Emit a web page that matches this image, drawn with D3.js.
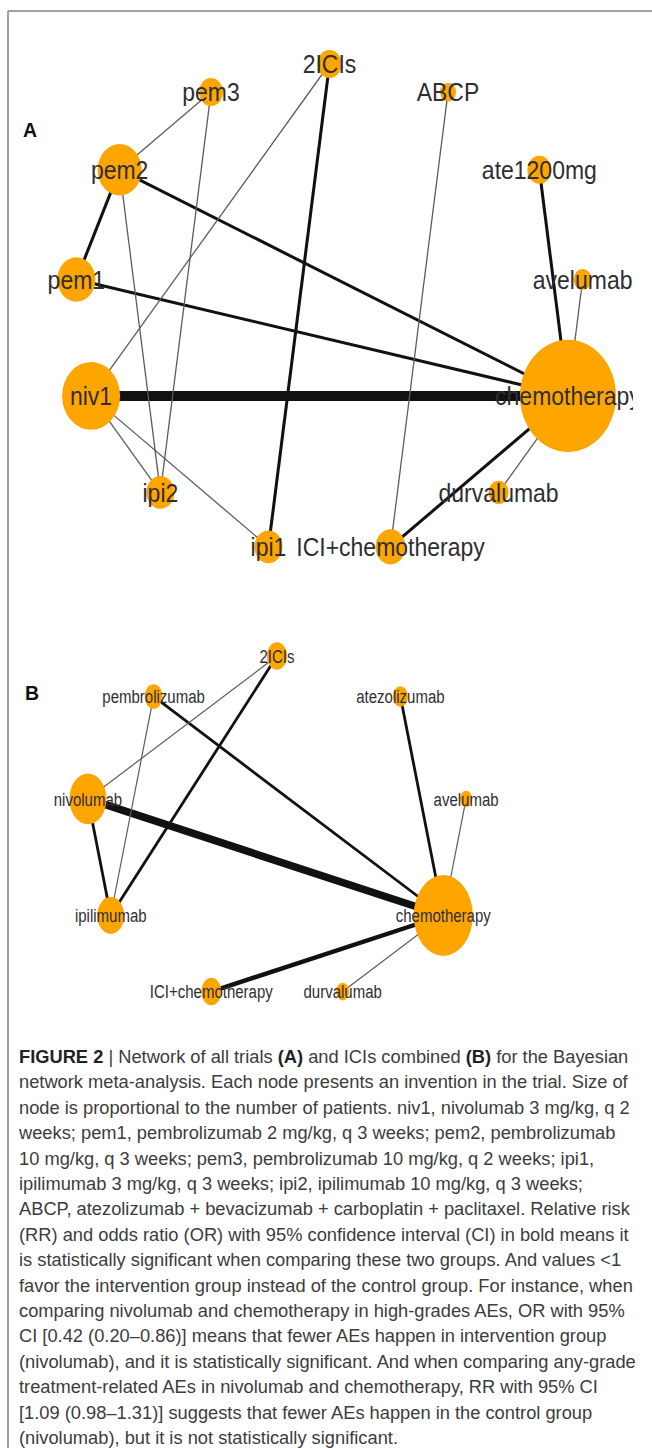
<!DOCTYPE html>
<html>
<head>
<meta charset="utf-8">
<script src="https://cdn.jsdelivr.net/npm/d3@7"></script>
<style>
  html, body { margin: 0; padding: 0; background: #fff; }
  svg { display: block; }
</style>
</head>
<body>
<svg id="chart" width="652" height="1448"></svg>
<script>
// ---------------- DATA ----------------
// Panel A: all trials (nodes in alphabetical order, circle layout)
const nodesA = ["2ICIs", "ABCP", "ate1200mg", "avelumab", "chemotherapy", "durvalumab",
                "ICI+chemotherapy", "ipi1", "ipi2", "niv1", "pem1", "pem2", "pem3"];
// relative node size (proportional to number of patients)
const sizesA = [12, 8, 12, 9, 48, 10, 15, 14, 14, 29, 19, 22, 12];
// edges: [from, to, number of studies]
const edgesA = [
  ["niv1", "chemotherapy", 6],
  ["pem2", "chemotherapy", 2],
  ["pem1", "chemotherapy", 2],
  ["pem1", "pem2", 2],
  ["2ICIs", "ipi1", 2],
  ["ate1200mg", "chemotherapy", 2],
  ["ICI+chemotherapy", "chemotherapy", 2],
  ["avelumab", "chemotherapy", 1],
  ["durvalumab", "chemotherapy", 1],
  ["ABCP", "ICI+chemotherapy", 1],
  ["pem3", "pem2", 1],
  ["pem3", "ipi2", 1],
  ["pem2", "ipi2", 1],
  ["2ICIs", "niv1", 1],
  ["niv1", "ipi2", 1],
  ["niv1", "ipi1", 1]
];

// Panel B: ICIs combined
const nodesB = ["2ICIs", "atezolizumab", "avelumab", "chemotherapy", "durvalumab",
                "ICI+chemotherapy", "ipilimumab", "nivolumab", "pembrolizumab"];
const sizesB = [10, 7.5, 6, 29.5, 6.5, 10, 13.5, 18.5, 9];
const edgesB = [
  ["nivolumab", "chemotherapy", 5],
  ["ICI+chemotherapy", "chemotherapy", 3],
  ["pembrolizumab", "chemotherapy", 2],
  ["2ICIs", "ipilimumab", 2],
  ["atezolizumab", "chemotherapy", 2],
  ["nivolumab", "ipilimumab", 2],
  ["avelumab", "chemotherapy", 1],
  ["durvalumab", "chemotherapy", 1],
  ["2ICIs", "nivolumab", 1],
  ["pembrolizumab", "ipilimumab", 1]
];

const panelLabels = ["A", "B"];

// Caption lines (** marks bold)
const captionLines = [
  "**FIGURE 2** | Network of all trials **(A)** and ICIs combined **(B)** for the Bayesian",
  "network meta-analysis. Each node presents an invention in the trial. Size of",
  "node is proportional to the number of patients. niv1, nivolumab 3 mg/kg, q 2",
  "weeks; pem1, pembrolizumab 2 mg/kg, q 3 weeks; pem2, pembrolizumab",
  "10 mg/kg, q 3 weeks; pem3, pembrolizumab 10 mg/kg, q 2 weeks; ipi1,",
  "ipilimumab 3 mg/kg, q 3 weeks; ipi2, ipilimumab 10 mg/kg, q 3 weeks;",
  "ABCP, atezolizumab + bevacizumab + carboplatin + paclitaxel. Relative risk",
  "(RR) and odds ratio (OR) with 95% confidence interval (CI) in bold means it",
  "is statistically significant when comparing these two groups. And values <1",
  "favor the intervention group instead of the control group. For instance, when",
  "comparing nivolumab and chemotherapy in high-grades AEs, OR with 95%",
  "CI [0.42 (0.20\u20130.86)] means that fewer AEs happen in intervention group",
  "(nivolumab), and it is statistically significant. And when comparing any-grade",
  "treatment-related AEs in nivolumab and chemotherapy, RR with 95% CI",
  "[1.09 (0.98\u20131.31)] suggests that fewer AEs happen in the control group",
  "(nivolumab), but it is not statistically significant."
];

// ---------------- DRAWING ----------------
const svg = d3.select("#chart");
const FONT = "'Liberation Sans', Arial, Helvetica, sans-serif";

// frame
svg.append("line").attr("x1", 8).attr("x2", 652).attr("y1", 11).attr("y2", 11)
  .attr("stroke", "#a0a0a0").attr("stroke-width", 2);
svg.append("line").attr("x1", 8).attr("x2", 8).attr("y1", 11).attr("y2", 1448)
  .attr("stroke", "#a0a0a0").attr("stroke-width", 2);

// clip for panel A (label of chemotherapy is cut at the right)
svg.append("defs").append("clipPath").attr("id", "clipA")
  .append("rect").attr("x", 9).attr("y", 12).attr("width", 624).attr("height", 570);

function drawNetwork(cfg) {
  const n = cfg.nodes.length;
  // circle layout in unit coordinates (igraph layout_in_circle, clockwise from top)
  const layout = cfg.nodes.map((name, i) => {
    const a = i * 2 * Math.PI / n;
    return { name, ux: Math.sin(a), uy: -Math.cos(a), size: cfg.sizes[i] };
  });
  const x = d3.scaleLinear().domain([-1, 1]).range(cfg.xRange);
  const y = d3.scaleLinear().domain([-1, 1]).range(cfg.yRange);
  const r = d3.scaleLinear().domain([0, 1]).range([0, 1]);
  const w = d3.scaleLinear().domain(cfg.wDomain).range(cfg.wRange);
  const col = d3.scaleThreshold().domain([1.5]).range(["#5c5c5c", "#111111"]);
  const byName = new Map(layout.map(d => [d.name, d]));

  const g = svg.append("g");
  if (cfg.clip) g.attr("clip-path", `url(#${cfg.clip})`);

  g.append("g").selectAll("line").data(cfg.edges).join("line")
    .attr("x1", d => x(byName.get(d[0]).ux))
    .attr("y1", d => y(byName.get(d[0]).uy))
    .attr("x2", d => x(byName.get(d[1]).ux))
    .attr("y2", d => y(byName.get(d[1]).uy))
    .attr("stroke", d => col(d[2]))
    .attr("stroke-width", d => w(d[2]))
    .attr("stroke-linecap", "butt");

  g.append("g").selectAll("ellipse").data(layout).join("ellipse")
    .attr("cx", d => x(d.ux))
    .attr("cy", d => y(d.uy))
    .attr("rx", d => r(d.size))
    .attr("ry", d => r(d.size) * cfg.aspect)
    .attr("fill", "#FFA500");

  g.append("g").selectAll("text").data(layout).join("text")
    .attr("transform", d => `translate(${x(d.ux)},${y(d.uy)}) scale(1,${cfg.textStretch})`)
    .attr("text-anchor", "middle")
    .attr("dy", "0.36em")
    .attr("font-family", FONT)
    .attr("font-size", cfg.fontSize)
    .attr("fill", "#2e2e33")
    .text(d => d.name);
}

drawNetwork({
  nodes: nodesA, sizes: sizesA, edges: edgesA,
  xRange: [74.5, 584.5], yRange: [64, 554],
  wDomain: [1, 6], wRange: [1.3, 10],
  aspect: 1.17, fontSize: 23, textStretch: 1.12, clip: "clipA"
});

drawNetwork({
  nodes: nodesB, sizes: sizesB, edges: edgesB,
  xRange: [85, 469], yRange: [656, 1002],
  wDomain: [1, 5], wRange: [1.2, 7.6],
  aspect: 1.37, fontSize: 15, textStretch: 1.28, clip: null
});

// panel letters
svg.selectAll("text.panel").data(panelLabels).join("text")
  .attr("class", "panel")
  .attr("x", (d, i) => [23, 25][i])
  .attr("y", (d, i) => [137, 700][i])
  .attr("font-family", FONT)
  .attr("font-weight", "bold")
  .attr("font-size", 19.5)
  .attr("fill", "#111")
  .text(d => d);

// caption
const cap = svg.append("g");
const lineY = d3.scaleLinear().domain([0, 15]).range([1063, 1444]);
captionLines.forEach((line, i) => {
  const t = cap.append("text")
    .attr("x", 19)
    .attr("y", lineY(i))
    .attr("font-family", FONT)
    .attr("font-size", 18.3)
    .attr("fill", "#3c3c3c");
  line.split("**").forEach((part, k) => {
    if (!part) return;
    t.append("tspan")
      .attr("font-weight", k % 2 === 1 ? "bold" : "normal")
      .attr("fill", k % 2 === 1 ? "#222" : "#3c3c3c")
      .text(part);
  });
});
</script>
</body>
</html>
